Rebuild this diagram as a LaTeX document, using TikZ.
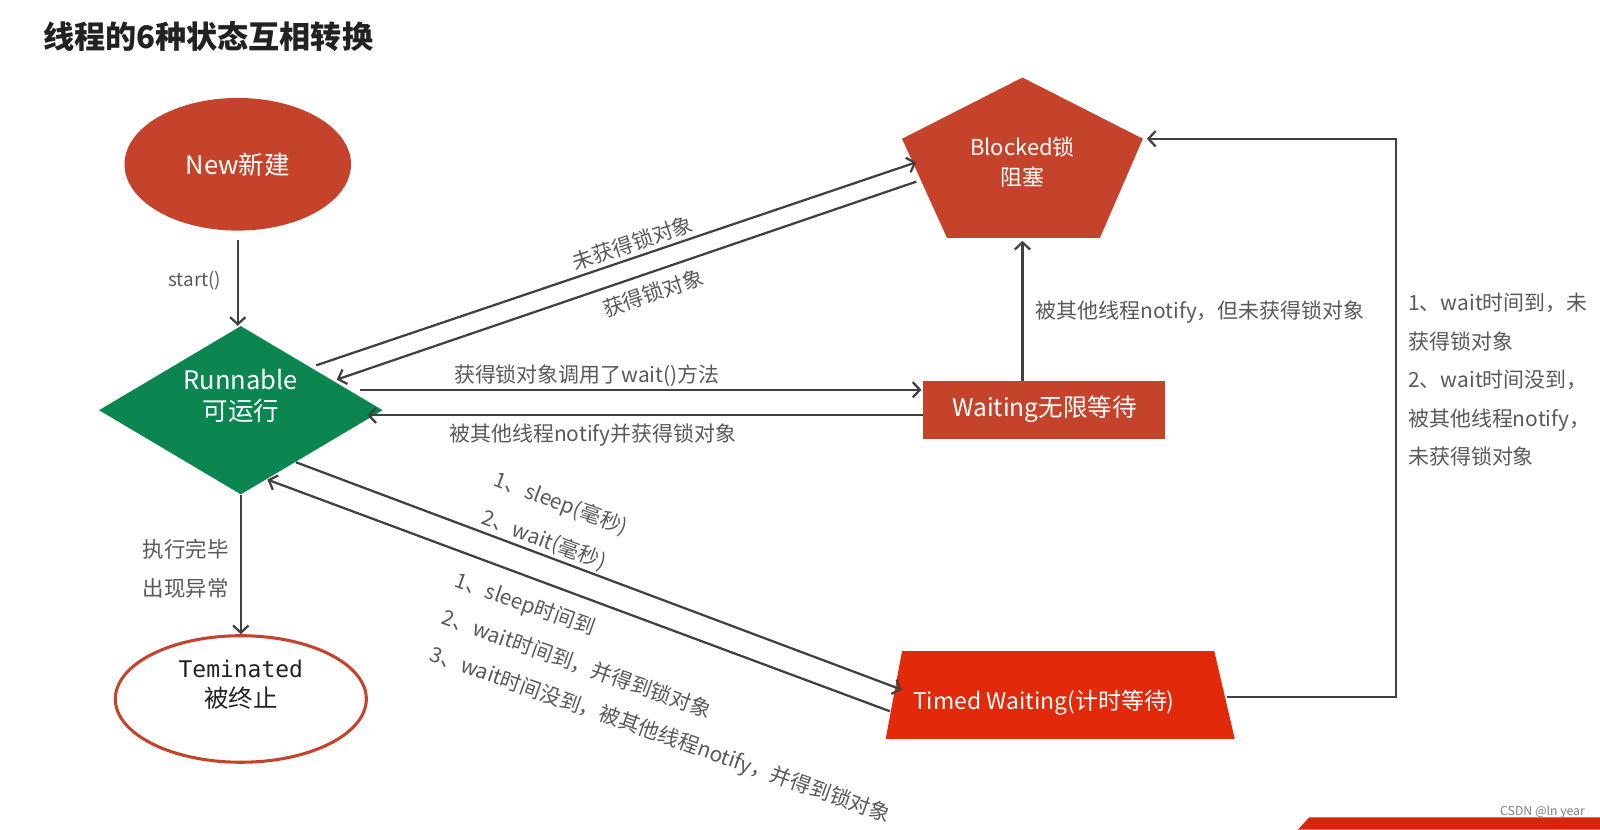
\documentclass[tikz,border=0pt]{standalone}
\usepackage{fontspec}
\setmainfont{Noto Sans CJK SC}
\newfontfamily\monofnt{DejaVu Sans Mono}
\usetikzlibrary{shapes.geometric,arrows.meta,calc}
\definecolor{brick}{HTML}{C5432A}
\definecolor{runGreen}{HTML}{0B8650}
\definecolor{tred}{HTML}{E22A0A}
\definecolor{linegray}{HTML}{404040}
\definecolor{lblgray}{HTML}{595959}
\definecolor{titlegray}{HTML}{222222}
\definecolor{bannerred}{HTML}{D8230F}
\begin{document}
\begin{tikzpicture}[x=1pt,y=-1pt,
  conn/.style={draw=linegray, line width=2.2pt, -{Straight Barb[length=7pt,width=15pt]}},
  lbl/.style={text=lblgray, font=\fontsize{20.5}{24}\selectfont, inner sep=0pt},
  statetext/.style={text=white, align=center, inner sep=0pt}]
\useasboundingbox (0,0) rectangle (1568,813);
\fill[white] (0,0) rectangle (1568,813);

% title
\node[anchor=west, inner sep=0pt, text=titlegray, font=\fontsize{30.5}{36}\selectfont\bfseries] (title) at (42,36) {线程的6种状态互相转换};

% states
\node[ellipse, fill=brick, minimum width=222pt, minimum height=130pt, statetext, font=\fontsize{25}{30}\selectfont] (new) at (233,161) {New新建};
\node[diamond, fill=runGreen, minimum width=278pt, minimum height=165pt, inner sep=0pt] (run) at (236,402) {};
\node[statetext, font=\fontsize{25}{30}\selectfont] (runlbl) at (236,388) {Runnable\\可运行};
\node[rectangle, fill=brick, minimum width=237pt, minimum height=57pt, inner sep=0pt, statetext, font=\fontsize{24}{29}\selectfont] (wait) at (1023.5,401.5) {Waiting无限等待};
\fill[brick] (1002,76) -- (1120,136) -- (1078,233) -- (928,233) -- (884,136) -- cycle;
\node[statetext, font=\fontsize{21.5}{29}\selectfont] (blk) at (1002,159) {Blocked锁\\阻塞};
\fill[tred] (884,638) -- (1190,638) -- (1210,724) -- (868,724) -- cycle;
\node[statetext, font=\fontsize{22.5}{28}\selectfont] (timed) at (1023,689) {Timed Waiting(计时等待)};
\node[ellipse, draw=brick, line width=3pt, fill=white, minimum width=246pt, minimum height=124pt, inner sep=0pt] (term) at (236,685) {};
\node[align=center, inner sep=0pt, text=titlegray, font=\fontsize{24}{29}\selectfont] (termlbl) at (236,671) {{\monofnt\fontsize{22.5}{29}\selectfont Teminated}\\被终止};

% connector end points
\coordinate (rb1) at (310,358);
\coordinate (bb1) at (898,159);
\coordinate (bb2) at (898,178);
\coordinate (rb2) at (330,372);
\coordinate (rw1) at (353,382);
\coordinate (ww1) at (903,382);
\coordinate (ww2) at (905,407);
\coordinate (rw2) at (360,407);
\coordinate (wb) at (1002,373);
\coordinate (bw) at (1002,236);
\coordinate (rt1) at (290,453);
\coordinate (tt1) at (884,676);
\coordinate (tt2) at (872,697);
\coordinate (rt2) at (262,470);
\coordinate (tr) at (1202,683);
\coordinate (cA) at (1368,683);
\coordinate (cB) at (1368,136);
\coordinate (br) at (1124,136);

% connectors
\draw[conn] ([yshift=-9pt]new.south) -- (new.south |- run.north);
\draw[conn] (run.south) -- (term.north);
\draw[conn] (rb1) -- (bb1);
\draw[conn] (bb2) -- (rb2);
\draw[conn] (rw1) -- (ww1);
\draw[conn] (ww2) -- (rw2);
\draw[conn] (wb) -- (bw);
\draw[conn] (rt1) -- (tt1);
\draw[conn] (tt2) -- (rt2);
\draw[conn] (tr) -- (cA) -- (cB) -- (br);

% labels
\node[lbl, font=\fontsize{18.5}{22}\selectfont] (lstart) at (191,275) {start()};
\node[lbl, font=\fontsize{21}{24}\selectfont] (lend1) at (182,538) {执行完毕};
\node[lbl, font=\fontsize{21}{24}\selectfont] (lend2) at (182,577) {出现异常};
\node[lbl, rotate=18.7] (lnot) at (620,238) {未获得锁对象};
\node[lbl, rotate=18.7] (lgot) at (640,287) {获得锁对象};
\node[lbl] (lwait) at (575,368) {获得锁对象调用了wait()方法};
\node[lbl] (lnotify) at (581,426) {被其他线程notify并获得锁对象};
\node[lbl, anchor=west] (lnb) at (1015,306) {被其他线程notify，但未获得锁对象};
\node[lbl, anchor=north west, align=left, font=\fontsize{20.5}{37.8}\selectfont] (lright) at (1380,287) {1、wait时间到，未\\获得锁对象\\2、wait时间没到，\\被其他线程notify，\\未获得锁对象};
\node[lbl, rotate=-20.5, anchor=west] (ls1) at (485,470) {1、sleep(毫秒)};
\node[lbl, rotate=-20.5, anchor=west] (ls2) at (473,507) {2、wait(毫秒)};
\node[lbl, rotate=-19.5, anchor=west] (lt1) at (446,569) {1、sleep时间到};
\node[lbl, rotate=-19.5, anchor=west] (lt2) at (434,604) {2、wait时间到，并得到锁对象};
\node[lbl, rotate=-19.5, anchor=west] (lt3) at (422,641) {3、wait时间没到，被其他线程notify，并得到锁对象};

% bottom banner and watermark
\fill[bannerred] (1272,813) -- (1283,801) -- (1568,801) -- (1568,813) -- cycle;
\node[anchor=west, inner sep=0pt, text=gray, font=\fontsize{12}{14}\selectfont] (wm) at (1470,796) {CSDN @ln year};
\end{tikzpicture}
\end{document}
